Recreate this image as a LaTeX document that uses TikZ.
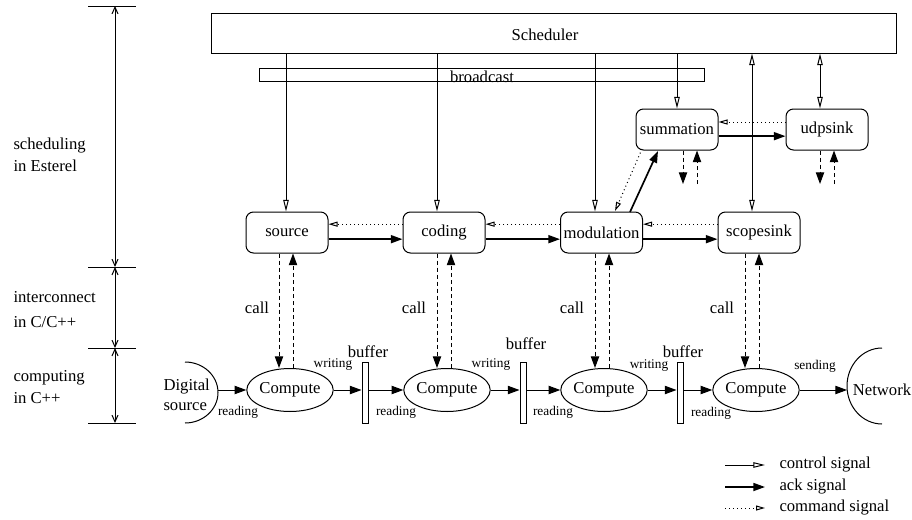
\documentclass[tikz,border=0pt]{standalone}
\usepackage{fontspec}
\setmainfont{Liberation Serif}
\usetikzlibrary{arrows.meta,shapes.geometric}
\begin{document}
\begin{tikzpicture}[x=0.6pt,y=-0.6pt,
  font=\fontsize{10pt}{12pt}\selectfont,
  every path/.style={line width=0.6pt},
  box/.style={draw, rounded corners=4.5pt, minimum width=49.2pt, minimum height=24.6pt, inner sep=0pt},
  comp/.style={draw, ellipse, minimum width=46.2pt, minimum height=25.8pt, inner sep=0pt},
  buf/.style={draw, minimum width=3.6pt, minimum height=36.6pt, inner sep=0pt},
  lbl/.style={inner sep=0pt},
  small/.style={inner sep=0pt, font=\fontsize{8pt}{9pt}\selectfont},
  ctrl/.style={-{Triangle[open,length=7pt,width=3.3pt]}},
  ctrlboth/.style={{Triangle[open,length=7pt,width=3.3pt]}-{Triangle[open,length=7pt,width=3.3pt]}},
  ack/.style={line width=1pt, -{Triangle[length=7pt,width=4.8pt]}},
  cmd/.style={dash pattern=on 0.6pt off 1.8pt, -{Triangle[open,length=5.4pt,width=3pt]}},
  call/.style={dash pattern=on 2.4pt off 1.8pt, -{Triangle[length=7pt,width=5pt]}},
  flow/.style={-{Triangle[length=7pt,width=5pt]}},
  scl/.style={{Straight Barb[length=4pt,width=3.6pt]}-{Straight Barb[length=4pt,width=3.6pt]}}
]
\useasboundingbox (0,0) rectangle (912,519);

% scheduler and broadcast
\node[draw, minimum width=411pt, minimum height=24pt, inner sep=0pt] (sched) at (553.5,33) {};
\node[lbl] (schedtxt) at (545,35) {Scheduler};
\node[draw, minimum width=267pt, minimum height=7.8pt, inner sep=0pt] (bcast) at (481.5,74.5) {};
\node[lbl] (bcasttxt) at (482,77) {broadcast};

% Esterel modules
\node[box] (source) at (287,232.5) {source};
\node[box] (coding) at (444,232.5) {coding};
\node[box] (modul) at (601.5,232.5) {modulation};
\node[box] (scope) at (759,232.5) {scopesink};
\node[box] (summ) at (677,129.5) {summation};
\node[box] (udp) at (827,129.5) {udpsink};

% computing layer
\node[comp] (c1) at (290,390) {Compute};
\node[comp] (c2) at (447,390) {Compute};
\node[comp] (c3) at (604,390) {Compute};
\node[comp] (c4) at (756,390) {Compute};
\node[buf] (b1) at (365,392.5) {};
\node[buf] (b2) at (523,392.5) {};
\node[buf] (b3) at (680,392.5) {};

% digital source and network
\draw (185,362) arc[start angle=90,end angle=-90,x radius=19.8pt,y radius=18.3pt];
\draw (882,348) arc[start angle=90,end angle=270,x radius=21pt,y radius=22.8pt];
\node[lbl, align=left, anchor=west] (dsrc) at (163,395) {Digital\\source};
\node[lbl] (net) at (882,390) {Network};
\coordinate (dsR) at (218,390);
\coordinate (netL) at (847,390);

% bottom flow
\draw[flow] (dsR) -- (c1.west);
\draw[flow] (c1.east) -- (c1.east -| b1.west);
\draw[flow] (c1.east -| b1.east) -- (c2.west);
\draw[flow] (c2.east) -- (c2.east -| b2.west);
\draw[flow] (c2.east -| b2.east) -- (c3.west);
\draw[flow] (c3.east) -- (c3.east -| b3.west);
\draw[flow] (c3.east -| b3.east) -- (c4.west);
\draw[flow] (c4.east) -- (netL);

\node[small] (r0) at (238,412) {reading};
\node[small] (r1) at (396,412) {reading};
\node[small] (r2) at (553,412) {reading};
\node[small] (r3) at (711,413) {reading};
\node[small] (w1) at (333,365) {writing};
\node[small] (w2) at (491,365) {writing};
\node[small] (w3) at (649,366) {writing};
\node[small] (snd) at (815,366) {sending};
\node[lbl] (bl1) at (368,352) {buffer};
\node[lbl] (bl2) at (526,344) {buffer};
\node[lbl] (bl3) at (683,352) {buffer};

% scheduler control lines
\coordinate (xs) at (286,0);
\coordinate (xc) at (437,0);
\coordinate (xm) at (595,0);
\coordinate (xsum) at (677,0);
\coordinate (xsc) at (752,0);
\coordinate (xu) at (820,0);
\draw[ctrl] (sched.south -| xs) -- (source.north -| xs);
\draw[ctrl] (sched.south -| xc) -- (coding.north -| xc);
\draw[ctrl] (sched.south -| xm) -- (modul.north -| xm);
\draw[ctrl] (sched.south -| xsum) -- (summ.north -| xsum);
\draw[ctrlboth] (sched.south -| xsc) -- (scope.north -| xsc);
\draw[ctrlboth] (sched.south -| xu) -- (udp.north -| xu);

% ack and command between modules
\draw[ack] ([yshift=-4pt]source.east) -- ([yshift=-4pt]coding.west);
\draw[cmd] ([yshift=5pt]coding.west) -- ([yshift=5pt]source.east);
\draw[ack] ([yshift=-4pt]coding.east) -- ([yshift=-4pt]modul.west);
\draw[cmd] ([yshift=5pt]modul.west) -- ([yshift=5pt]coding.east);
\draw[ack] ([yshift=-4pt]modul.east) -- ([yshift=-4pt]scope.west);
\draw[cmd] ([yshift=5pt]scope.west) -- ([yshift=5pt]modul.east);
\draw[ack] ([yshift=-4pt]summ.east) -- ([yshift=-4pt]udp.west);
\draw[cmd] ([yshift=4.5pt]udp.west) -- ([yshift=4.5pt]summ.east);
\coordinate (ma) at (630,212);
\coordinate (sa) at (658,151);
\coordinate (sc) at (642,149);
\coordinate (mc) at (615,211);
\draw[ack] (ma) -- (sa);
\draw[cmd] (sc) -- (mc);

% call pairs
\coordinate (d1) at (279,0); \coordinate (u1) at (293,0);
\coordinate (d2) at (437,0); \coordinate (u2) at (451,0);
\coordinate (d3) at (595,0); \coordinate (u3) at (609,0);
\coordinate (d4) at (745,0); \coordinate (u4) at (759,0);
\draw[call] (source.south -| d1) -- (c1.north -| d1);
\draw[call] (c1.north -| u1) -- (source.south -| u1);
\draw[call] (coding.south -| d2) -- (c2.north -| d2);
\draw[call] (c2.north -| u2) -- (coding.south -| u2);
\draw[call] (modul.south -| d3) -- (c3.north -| d3);
\draw[call] (c3.north -| u3) -- (modul.south -| u3);
\draw[call] (scope.south -| d4) -- (c4.north -| d4);
\draw[call] (c4.north -| u4) -- (scope.south -| u4);
\node[lbl] (call1) at (257,308) {call};
\node[lbl] (call2) at (414,308) {call};
\node[lbl] (call3) at (572,308) {call};
\node[lbl] (call4) at (722,308) {call};

% summation / udpsink dangling calls
\coordinate (sd) at (683,184); \coordinate (su) at (697,184);
\coordinate (ud) at (820,184); \coordinate (uu) at (834,184);
\draw[call] (summ.south -| sd) -- (sd);
\draw[call] (su) -- (summ.south -| su);
\draw[call] (udp.south -| ud) -- (ud);
\draw[call] (uu) -- (udp.south -| uu);

% left scale
\coordinate (t0) at (115,6); \coordinate (t1) at (115,267);
\coordinate (t2) at (115,348); \coordinate (t3) at (115,423);
\foreach \p in {t0,t1,t2,t3} \draw ([xshift=-16.2pt]\p) -- ([xshift=12.6pt]\p);
\draw[scl] (t0) -- (t1);
\draw[scl] (t1) -- (t2);
\draw[scl] (t2) -- (t3);
\node[lbl, anchor=west] (s1) at (13,146) {scheduling};
\node[lbl, anchor=west] (s2) at (13,166) {in Esterel};
\node[lbl, anchor=west] (s3) at (13,297) {interconnect};
\node[lbl, anchor=west] (s4) at (13,322) {in C/C++};
\node[lbl, anchor=west] (s5) at (13,378) {computing};
\node[lbl, anchor=west] (s6) at (13,398) {in C++};

% legend
\coordinate (la1) at (725,465); \coordinate (lb1) at (765,465);
\coordinate (la2) at (725,487); \coordinate (lb2) at (765,487);
\coordinate (la3) at (725,508); \coordinate (lb3) at (765,508);
\draw[ctrl] (la1) -- (lb1);
\draw[ack] (la2) -- (lb2);
\draw[cmd] (la3) -- (lb3);
\node[lbl, anchor=west] (lg1) at (779,465) {control signal};
\node[lbl, anchor=west] (lg2) at (779,487) {ack signal};
\node[lbl, anchor=west] (lg3) at (779,508) {command signal};
\end{tikzpicture}
\end{document}
